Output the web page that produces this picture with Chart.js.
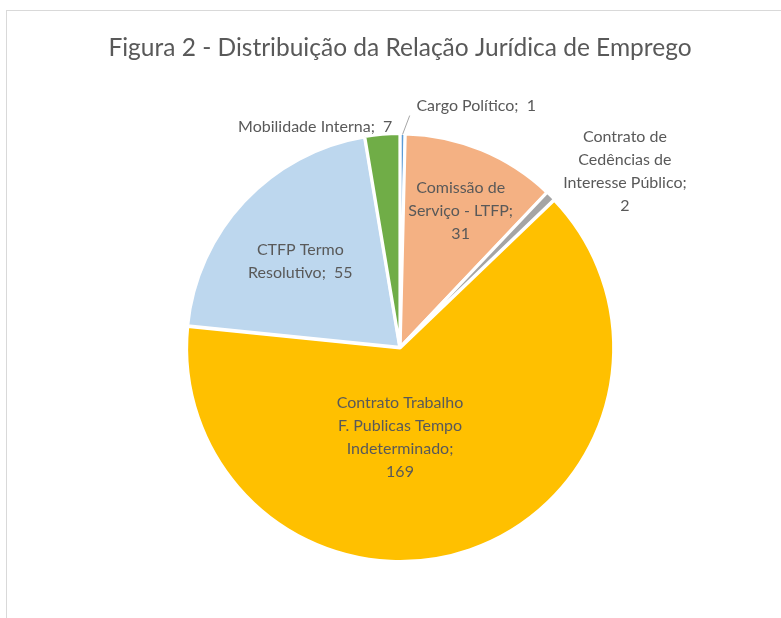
<!DOCTYPE html>
<html>
<head>
<meta charset="utf-8">
<script src="https://cdn.jsdelivr.net/npm/chart.js@4"></script>
<style>
  html, body { margin: 0; padding: 0; background: #fff; }
  #wrap { position: relative; width: 781px; height: 618px; overflow: hidden; }
  #frame { position: absolute; left: 6px; top: 10px; width: 820px; height: 700px; border: 1px solid #d9d9d9; }
  canvas { position: absolute; left: 0; top: 0; }
</style>
</head>
<body>
<div id="wrap">
  <div id="frame"></div>
  <canvas id="pieChart" width="781" height="618"></canvas>
</div>
<script>
// Data
const categories = [
    "Cargo Político",
    "Comissão de Serviço - LTFP",
    "Contrato de Cedências de Interesse Público",
    "Contrato Trabalho F. Publicas Tempo Indeterminado",
    "CTFP Termo Resolutivo",
    "Mobilidade Interna"
];
const values = [1, 31, 2, 169, 55, 7];
const colors = ["#5B9BD5", "#F4B183", "#A5A5A5", "#FFC000", "#BDD7EE", "#70AD47"];

// How each data label is written (line breaks as in the figure)
const labelLines = [
    ["Cargo Político;  1"],
    ["Comissão de", "Serviço - LTFP;", "31"],
    ["Contrato de", "Cedências de", "Interesse Público;", "2"],
    ["Contrato Trabalho", "F. Publicas Tempo", "Indeterminado;", "169"],
    ["CTFP Termo", "Resolutivo;  55"],
    ["Mobilidade Interna;  7"]
];

// Label placement: distance from the centre as a share of the radius, and angle (deg, clockwise from top)
const labelLayout = [
    { r: 1.19, a: 17.5, align: "center" },
    { r: 0.70, a: 24, align: "center" },
    { r: 1.34, a: 52, align: "center" },
    { r: 0.42, a: 180, align: "center" },
    { r: 0.62, a: 311, align: "center" },
    { r: 1.035, a: 358, align: "right" }
];

const titleText = "Figura 2 - Distribuição da Relação Jurídica de Emprego";
const fontFamily = "Lato, 'Open Sans', sans-serif";

const labelPlugin = {
    id: 'pieLabels',
    afterDraw(chart) {
        const ctx = chart.ctx;
        const arcs = chart.getDatasetMeta(0).data;
        ctx.save();

        // title
        ctx.fillStyle = "#595959";
        ctx.font = "24.5px " + fontFamily;
        ctx.textAlign = "center";
        ctx.textBaseline = "middle";
        ctx.fillText(titleText, 400, 48);

        // data labels
        ctx.font = "16px " + fontFamily;
        const lineH = 23;
        arcs.forEach((arc, i) => {
            const lay = labelLayout[i];
            const ang = (lay.a - 90) * Math.PI / 180;
            const x = arc.x + Math.cos(ang) * arc.outerRadius * lay.r;
            const y = arc.y + Math.sin(ang) * arc.outerRadius * lay.r;
            const lines = labelLines[i];
            ctx.textAlign = lay.align;
            ctx.fillStyle = "#595959";
            lines.forEach((ln, k) => {
                ctx.fillText(ln, x, y + (k - (lines.length - 1) / 2) * lineH);
            });
        });

        // leader line for the tiny slice
        const a0 = arcs[0];
        const mid = (a0.startAngle + a0.endAngle) / 2;
        ctx.strokeStyle = "#a6a6a6";
        ctx.lineWidth = 1;
        ctx.beginPath();
        ctx.moveTo(a0.x + Math.cos(mid) * a0.outerRadius * 1.0, a0.y + Math.sin(mid) * a0.outerRadius * 1.0);
        ctx.lineTo(a0.x + Math.cos(mid + 0.03) * a0.outerRadius * 1.09, a0.y + Math.sin(mid + 0.03) * a0.outerRadius * 1.09);
        ctx.stroke();

        ctx.restore();
    }
};

new Chart(document.getElementById("pieChart").getContext('2d'), {
    type: 'pie',
    data: {
        labels: categories,
        datasets: [{
            data: values,
            backgroundColor: colors,
            borderColor: '#ffffff',
            borderWidth: 3,
            offset: 2
        }]
    },
    options: {
        responsive: false,
        animation: false,
        layout: {
            padding: { top: 132, bottom: 55, left: 19, right: 0 }
        },
        plugins: {
            legend: { display: false },
            tooltip: { enabled: false },
            title: { display: false }
        }
    },
    plugins: [labelPlugin]
});
</script>
</body>
</html>
